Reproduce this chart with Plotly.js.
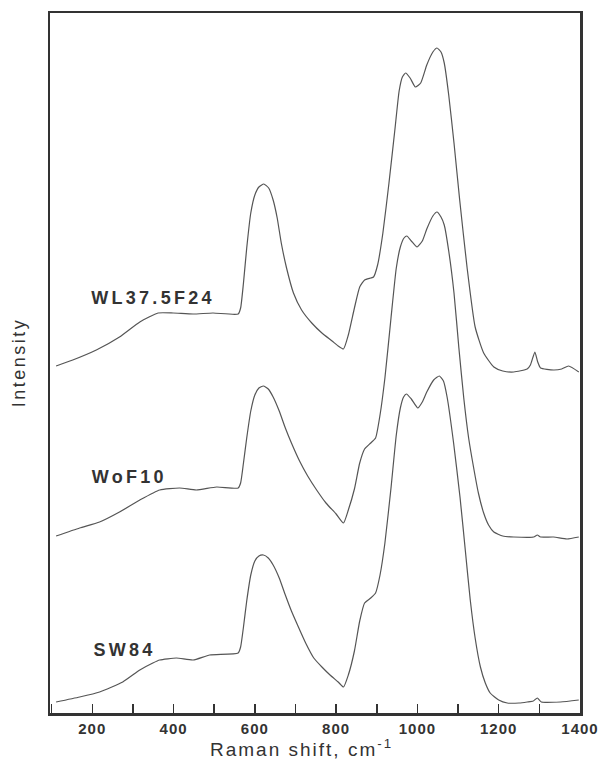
<!DOCTYPE html>
<html>
<head>
<meta charset="utf-8">
<script src="https://cdn.plot.ly/plotly-3.0.1.min.js"></script>
<style>
html,body{margin:0;padding:0;background:#fff;}
#chart{width:604px;height:761px;}
.xtick text{letter-spacing:1px;}
g.annotation[data-index="0"] text{letter-spacing:2.5px;}
g.annotation[data-index="1"] text{letter-spacing:2px;}
g.annotation[data-index="2"] text,g.annotation[data-index="3"] text,g.annotation[data-index="4"] text{letter-spacing:3.3px;}
</style>
</head>
<body>
<div id="chart"></div>
<script>
// Raman shift (cm^-1) and relative intensity (arbitrary, stacked) for each spectrum
const wlX = [111,152,210,267,317,362,399,448,497,559,565,572,580,590,600,610,622,634,645,655,665,678,695,715,740,765,790,805,818,830,845,858,870,885,892,902,915,930,945,955,963,971,982,995,1008,1023,1038,1048,1058,1066,1077,1090,1104,1122,1142,1163,1188,1210,1237,1270,1278,1289,1296,1303,1335,1355,1372,1397];
const wlY = [347,353,363,376,391,400,400,399,400,399,405,430,465,500,518,526,529,525,513,495,470,445,420,403,390,380,372,367,364,378,405,426,433,435,436,448,480,530,585,622,636,640,635,626,630,648,661,665,661,650,618,570,513,446,386,360,346,342,341,344,348,361,351,345,343,344,347,341];

const woX = [111,169,218,267,317,366,415,456,506,559,565,572,580,590,600,610,621,633,645,660,675,690,710,730,752,775,800,818,830,845,858,870,885,897,908,920,935,948,958,967,974,985,999,1012,1023,1038,1048,1058,1066,1077,1090,1102,1114,1126,1138,1150,1163,1175,1188,1210,1237,1286,1295,1303,1335,1368,1397];
const woY = [177,185,191,201,213,223,225,223,226,225,230,250,275,302,318,325,327,324,316,302,285,270,252,237,223,210,199,190,203,224,250,264,270,275,298,335,395,445,466,475,477,472,466,472,484,497,501,496,488,462,420,365,315,275,246,220,200,188,181,177,176,176,178,176,176,174,176];

const swX = [111,169,218,275,317,349,366,407,448,489,559,565,572,580,590,600,610,621,633,645,660,675,690,705,725,745,765,785,805,818,830,845,858,870,885,897,908,920,935,948,958,966,973,985,1001,1012,1023,1040,1054,1064,1073,1089,1105,1118,1130,1142,1155,1167,1179,1200,1221,1250,1270,1285,1295,1305,1352,1397];
const swY = [11,16,21,31,43,50,53,55,53,58,60,66,86,112,138,152,157,158,155,148,135,118,102,88,70,55,46,38,31,26,38,62,92,110,115,120,138,170,225,278,305,316,319,314,305,311,321,333,337,332,316,270,215,162,113,75,46,30,20,13,10,10,11,12,15,11,11,13];

const seriesNames = ['WL37.5F24','WoF10','SW84'];
const tickVals = [200,400,600,800,1000,1200,1400];
const tickText = ['200','400','600','800','1000','1200','1400'];

const lineStyle = {color:'#555', width:1.2, shape:'spline', smoothing:0.5};
const traces = [
  {x:wlX, y:wlY, name:seriesNames[0]},
  {x:woX, y:woY, name:seriesNames[1]},
  {x:swX, y:swY, name:seriesNames[2]}
].map(t => Object.assign(t, {type:'scatter', mode:'lines', line:lineStyle, hoverinfo:'skip'}));

const labelFont = {family:'Liberation Sans, Arial, sans-serif', size:18, color:'#333', weight:'bold'};

const layout = {
  width:604, height:761,
  margin:{l:50, r:24, t:13, b:48},
  paper_bgcolor:'#fff', plot_bgcolor:'#fff',
  showlegend:false,
  xaxis:{
    range:[96,1400], showgrid:false, zeroline:false,
    showline:true, mirror:true, linecolor:'#333', linewidth:2.5,
    ticks:'inside', ticklen:9, tickwidth:1.5, tickcolor:'#333',
    tickmode:'array', tickvals:tickVals, ticktext:tickText,
    minor:{tickmode:'linear', tick0:100, dtick:100, ticks:'inside', ticklen:9, tickwidth:1.5, tickcolor:'#333', showgrid:false},
    tickfont:{family:'Liberation Sans, Arial, sans-serif', size:15, color:'#333', weight:'bold'}
  },
  yaxis:{
    range:[0,700], showgrid:false, zeroline:false,
    showline:true, mirror:true, linecolor:'#333', linewidth:2.5,
    showticklabels:false, ticks:''
  },
  annotations:[
    {text:'Intensity', xref:'paper', yref:'paper', x:0, y:0.5, xanchor:'center', yanchor:'middle',
     xshift:-31, textangle:-90, showarrow:false,
     font:{family:'Liberation Sans, Arial, sans-serif', size:18, color:'#333'}},
    {text:'Raman shift, cm<sup>-1</sup>', xref:'paper', yref:'paper', x:0.475, y:0, xanchor:'center', yanchor:'middle',
     yshift:-35, showarrow:false,
     font:{family:'Liberation Sans, Arial, sans-serif', size:19, color:'#333'}},
    {text:seriesNames[0], xref:'x', yref:'y', x:228, y:415, xanchor:'left', yanchor:'middle', showarrow:false, font:labelFont},
    {text:seriesNames[1], xref:'x', yref:'y', x:213, y:236, xanchor:'left', yanchor:'middle', showarrow:false, font:labelFont},
    {text:seriesNames[2], xref:'x', yref:'y', x:214, y:63, xanchor:'left', yanchor:'middle', showarrow:false, font:labelFont}
  ]
};

Plotly.newPlot('chart', traces, layout, {displayModeBar:false, staticPlot:true});
</script>
</body>
</html>
